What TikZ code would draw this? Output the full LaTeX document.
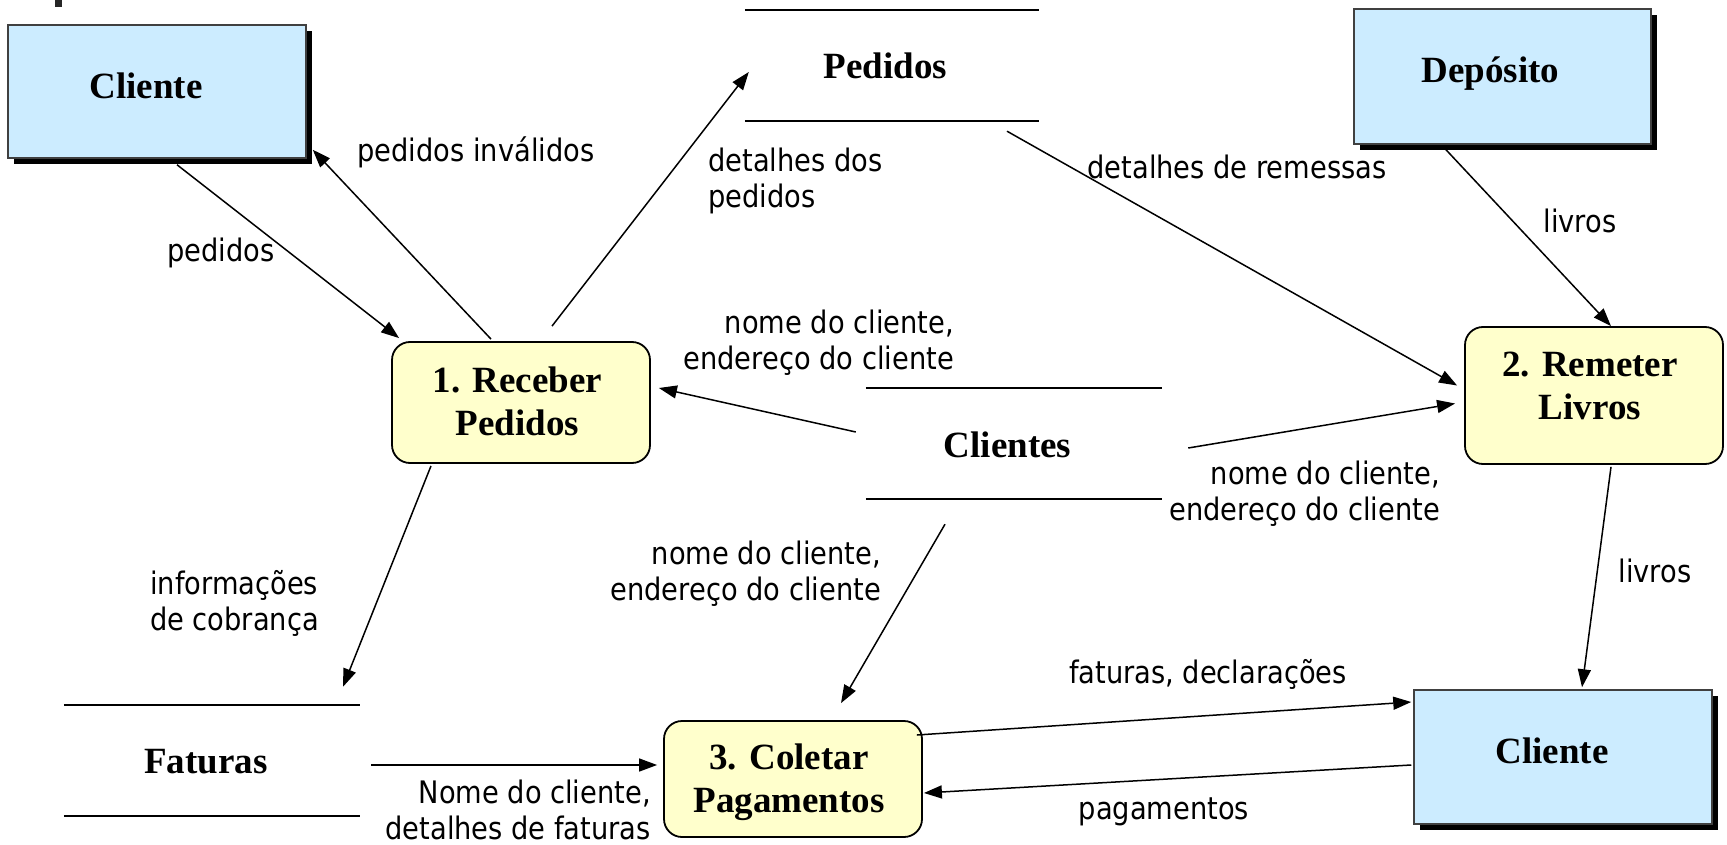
\documentclass[tikz,border=0pt]{standalone}
\usepackage{fontspec}
\setmainfont{Liberation Serif}
\newfontfamily\lblfont[FakeStretch=0.88]{DejaVu Sans}
\usetikzlibrary{arrows.meta,calc,shadows}
\tikzset{
  entity/.style={draw=black!75,line width=1.5pt,fill=entfill,inner sep=0pt,
    drop shadow={shadow xshift=6pt,shadow yshift=-6pt,fill=black,opacity=1}},
  process/.style={draw=black,line width=1.8pt,fill=procfill,rounded corners=18pt,inner sep=0pt},
  storebox/.style={inner sep=0pt},
  boldtext/.style={inner sep=0pt,align=center,font=\fontsize{37}{43}\selectfont\bfseries},
  storeline/.style={line width=1.8pt},
  flow/.style={line width=1.5pt,-{Triangle[length=18pt,width=13pt]}},
  lbl/.style={inner sep=0pt,font=\lblfont\fontsize{31}{36}\selectfont}
}
\definecolor{entfill}{HTML}{CCECFF}
\definecolor{procfill}{HTML}{FFFFCC}
\begin{document}
\begin{tikzpicture}[x=1pt,y=-1pt]
\useasboundingbox (0,0) rectangle (1727,845);
\fill[black!85] (55,0) rectangle (62,7);
% entities
\node[entity,minimum width=298pt,minimum height=133pt] (cliente1) at (157,91.5) {};
\node[entity,minimum width=297pt,minimum height=135pt] (deposito) at (1502.5,76.5) {};
\node[entity,minimum width=298pt,minimum height=134pt] (cliente2) at (1563,757) {};
\node[boldtext,anchor=base] (t1) at ($(cliente1.center)+(-11,7.5)$) {Cliente};
\node[boldtext,anchor=base] (t2) at ($(deposito.center)+(-12,6.5)$) {Depósito};
\node[boldtext,anchor=base] (t3) at ($(cliente2.center)+(-11,6)$) {Cliente};
% processes
\node[process,minimum width=258pt,minimum height=121pt] (receber) at (521,402.5) {};
\node[process,minimum width=258pt,minimum height=137pt] (remeter) at (1594,395.5) {};
\node[process,minimum width=258pt,minimum height=116pt] (coletar) at (793,779) {};
\node[boldtext,anchor=north] (t4) at ($(receber.center)+(-3.5,-35.5)$) {1. Receber\\Pedidos};
\node[boldtext,anchor=north] (t5) at ($(remeter.center)+(-4,-43.5)$) {2. Remeter\\Livros};
\node[boldtext,anchor=north] (t6) at ($(coletar.center)+(-4,-35)$) {3. Coletar\\Pagamentos};
% stores
\node[storebox,minimum width=294pt,minimum height=111pt] (pedidos) at (892,65.5) {};
\node[storebox,minimum width=296pt,minimum height=111pt] (clientes) at (1014,443.5) {};
\node[storebox,minimum width=296pt,minimum height=111pt] (faturas) at (212,760.5) {};
\foreach \s in {pedidos,clientes,faturas}{
  \draw[storeline] (\s.north west) -- (\s.north east);
  \draw[storeline] (\s.south west) -- (\s.south east);
}
\node[boldtext,anchor=base] (t7) at ($(pedidos.center)+(-6.5,13.5)$) {Pedidos};
\node[boldtext,anchor=base] (t8) at ($(clientes.center)+(-6.5,13.5)$) {Clientes};
\node[boldtext,anchor=base] (t9) at ($(faturas.center)+(-6,12.5)$) {Faturas};
% flows
\draw[flow] ($(cliente1.south)+(20,6)$) -- ($(receber.north west)+(8,-3)$);
\draw[flow] ($(receber.north)+(-30,-2)$) -- ($(cliente1.south east)+(6,-9)$);
\draw[flow] ($(receber.north)+(31,-15)$) -- ($(pedidos.west)+(4,6.5)$);
\draw[flow] ($(pedidos.south)+(115,10)$) -- ($(remeter.west)+(-7,-10)$);
\draw[flow] ($(deposito.south)+(-56.5,5)$) -- ($(remeter.north)+(17,0)$);
\draw[flow] ($(clientes.west)+(-10,-11.5)$) -- ($(receber.east)+(8,-14.5)$);
\draw[flow] ($(clientes.east)+(26,4.5)$) -- ($(remeter.west)+(-9,8)$);
\draw[flow] ($(clientes.south)+(-69,25)$) -- ($(coletar.north)+(48,-17)$);
\draw[flow] ($(receber.south)+(-90,2)$) -- ($(faturas.north)+(131,-18)$);
\draw[flow] ($(remeter.south)+(17,2)$) -- ($(cliente2.north)+(19,-2)$);
\draw[flow] ($(faturas.east)+(11,4.5)$) -- ($(coletar.west)+(-6,-14)$);
\draw[flow] ($(coletar.east)+(-6,-44)$) -- ($(cliente2.west)+(-2,-55)$);
\draw[flow] ($(cliente2.west)+(-2,8)$) -- ($(coletar.east)+(1,14)$);
% labels
\node[lbl] (l1) at (221,253) {pedidos};
\node[lbl] (l2) at (476,152) {pedidos inválidos};
\node[lbl,anchor=west,align=left] (l3) at (708,180.5) {detalhes dos\\pedidos};
\node[lbl] (l4) at (1237,167) {detalhes de remessas};
\node[lbl] (l5) at (1580,221) {livros};
\node[lbl,anchor=east,align=right] (l6) at (954,342.5) {nome do cliente,\\endereço do cliente};
\node[lbl,anchor=east,align=right] (l7) at (1440,493.5) {nome do cliente,\\endereço do cliente};
\node[lbl,anchor=east,align=right] (l8) at (881,574) {nome do cliente,\\endereço do cliente};
\node[lbl,anchor=west,align=left] (l9) at (150,603) {informações\\de cobrança};
\node[lbl] (l10) at (1655,571) {livros};
\node[lbl,anchor=east,align=right] (l11) at (651,809.5) {Nome do cliente,\\detalhes de faturas};
\node[lbl] (l12) at (1208,674) {faturas, declarações};
\node[lbl] (l13) at (1164,812) {pagamentos};
\end{tikzpicture}
\end{document}
